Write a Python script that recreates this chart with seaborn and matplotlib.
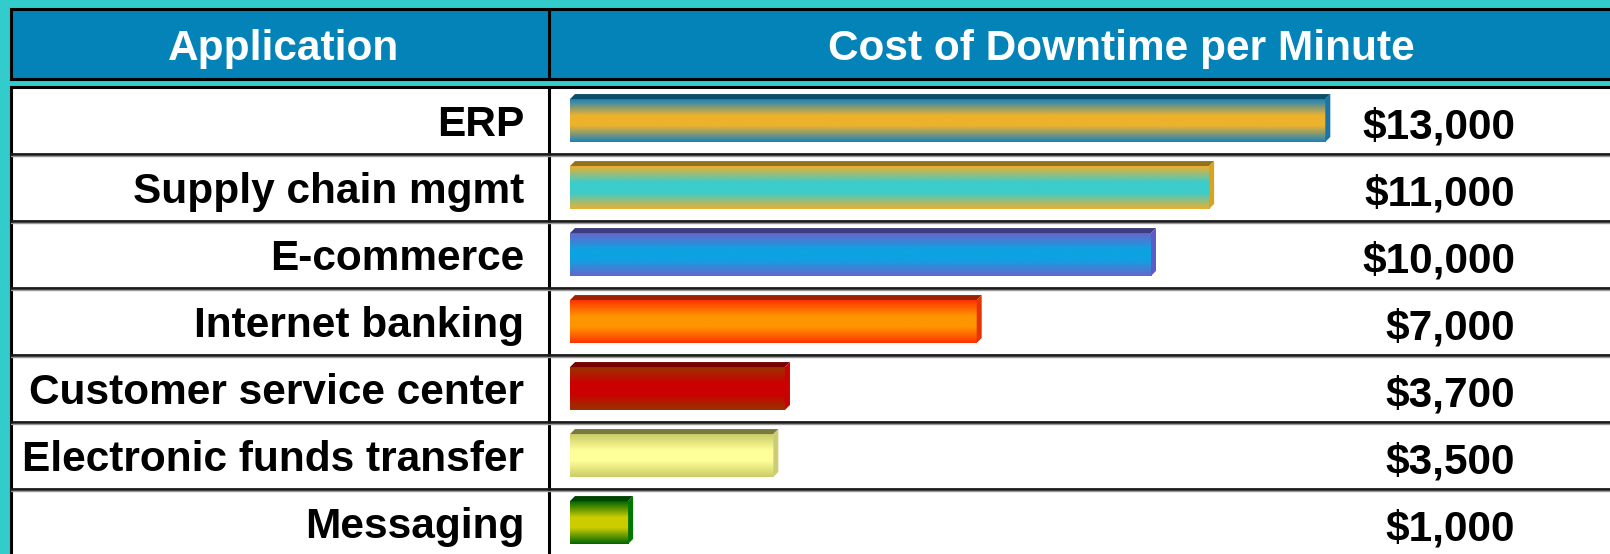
import numpy as np
import pandas as pd
import seaborn as sns
import matplotlib.pyplot as plt
from matplotlib.colors import LinearSegmentedColormap
from matplotlib.patches import Rectangle, Polygon
from matplotlib import transforms

applications = ["ERP", "Supply chain mgmt", "E-commerce", "Internet banking",
                "Customer service center", "Electronic funds transfer", "Messaging"]
cost_per_minute = [13000, 11000, 10000, 7000, 3700, 3500, 1000]
header_left = "Application"
header_right = "Cost of Downtime per Minute"

# (edge, middle, top face, side face) colour of each gradient bar
bar_colors = [
    ("#1A82BC", "#EDB22C", "#0B4F6C", "#1C73A6"),
    ("#EBB030", "#3CCCCC", "#94711A", "#D8A222"),
    ("#6666CC", "#0EA2E2", "#3C3C80", "#5C5CC4"),
    ("#FF3300", "#FF9500", "#992200", "#E63300"),
    ("#993300", "#CC0000", "#770000", "#CC0000"),
    ("#CCCC66", "#FFFF99", "#7A7A40", "#CCCC77"),
    ("#006600", "#CCCC00", "#004400", "#007700"),
]

df = pd.DataFrame({"application": applications, "cost": cost_per_minute})

sns.set_theme(style="white")
plt.rcParams["font.family"] = ["Liberation Sans", "DejaVu Sans"]

W, H = 1610, 554
fig = plt.figure(figsize=(W / 100, H / 100), dpi=100)
fig.patch.set_facecolor("#33CCCC")

# background axes in pixel units for the table frame
bg = fig.add_axes([0, 0, 1, 1])
bg.set_xlim(0, W)
bg.set_ylim(H, 0)
bg.axis("off")

row_top, row_h = 87, 67
n = len(applications)
col_div = 549

bg.add_patch(Rectangle((11, 9), W, 70, facecolor="#0383B8", edgecolor="black", lw=2.2))
bg.plot([col_div, col_div], [9, 79], color="black", lw=2.2)
bg.add_patch(Rectangle((11, row_top), W, row_h * n + 10, facecolor="white",
                       edgecolor="black", lw=2.2))
bg.plot([col_div, col_div], [row_top, H], color="black", lw=2.2)
for k in range(1, n):
    bg.plot([11, W], [row_top + k * row_h] * 2, color="#1a1a1a", lw=2.0)
    bg.plot([11, W], [row_top + k * row_h + 2] * 2, color="#999999", lw=1.0)

txt = dict(color="white", fontsize=30.5, fontweight="bold", ha="center", va="center")
bg.text(284, 49, header_left, **txt)
bg.text(1121, 49, header_right, **txt)

# bar axes covering the data rows
x0 = 570
ax = fig.add_axes([x0 / W, 1 - (row_top + row_h * n) / H, (W - x0) / W, row_h * n / H])
ax.patch.set_alpha(0)
sns.barplot(data=df, x="cost", y="application", orient="h", width=0.64,
            color="white", ax=ax, zorder=3)
xmax = 17900
ax.set_xlim(0, xmax)
ax.set_ylim(n - 0.5, -0.5)

d_px = 5
dx = d_px * xmax / (W - x0)
dy = d_px * n / (row_h * n)

for patch, (edge, mid, top, side) in zip(ax.patches, bar_colors):
    bx, by = patch.get_x(), patch.get_y()
    bw, bh = patch.get_width(), patch.get_height()
    cmap = LinearSegmentedColormap.from_list(
        "g", [(0, edge), (0.38, mid), (0.62, mid), (1, edge)])
    grad = np.linspace(0, 1, 200).reshape(-1, 1)
    im = ax.imshow(grad, cmap=cmap, aspect="auto", zorder=4,
                   extent=[bx, bx + bw, by + bh, by], interpolation="bilinear")
    im.set_clip_path(patch)
    ax.add_patch(Polygon([(bx, by), (bx + bw, by), (bx + bw + dx, by - dy), (bx + dx, by - dy)],
                         closed=True, facecolor=top, edgecolor="none", zorder=5))
    ax.add_patch(Polygon([(bx + bw, by), (bx + bw + dx, by - dy), (bx + bw + dx, by + bh - dy),
                          (bx + bw, by + bh)],
                         closed=True, facecolor=side, edgecolor="none", zorder=5))

ax.set_xlim(0, xmax)
ax.set_ylim(n - 0.5, -0.5)

ax.set_xlabel("")
ax.set_ylabel("")
ax.set_xticks([])
ax.set_yticks([])
sns.despine(ax=ax, left=True, bottom=True)

lab_tr = transforms.blended_transform_factory(bg.transData, ax.transData)
for i, (name, v) in enumerate(zip(applications, cost_per_minute)):
    ax.text(524, i + 0.07, name, transform=lab_tr, ha="right", va="center",
            fontsize=30.5, fontweight="bold", color="black")
    ax.text(1515, i + 0.1, f"${v:,}", transform=lab_tr, ha="right", va="center",
            fontsize=30.5, fontweight="bold", color="black")

fig.savefig("out.png", dpi=100, facecolor=fig.get_facecolor())
